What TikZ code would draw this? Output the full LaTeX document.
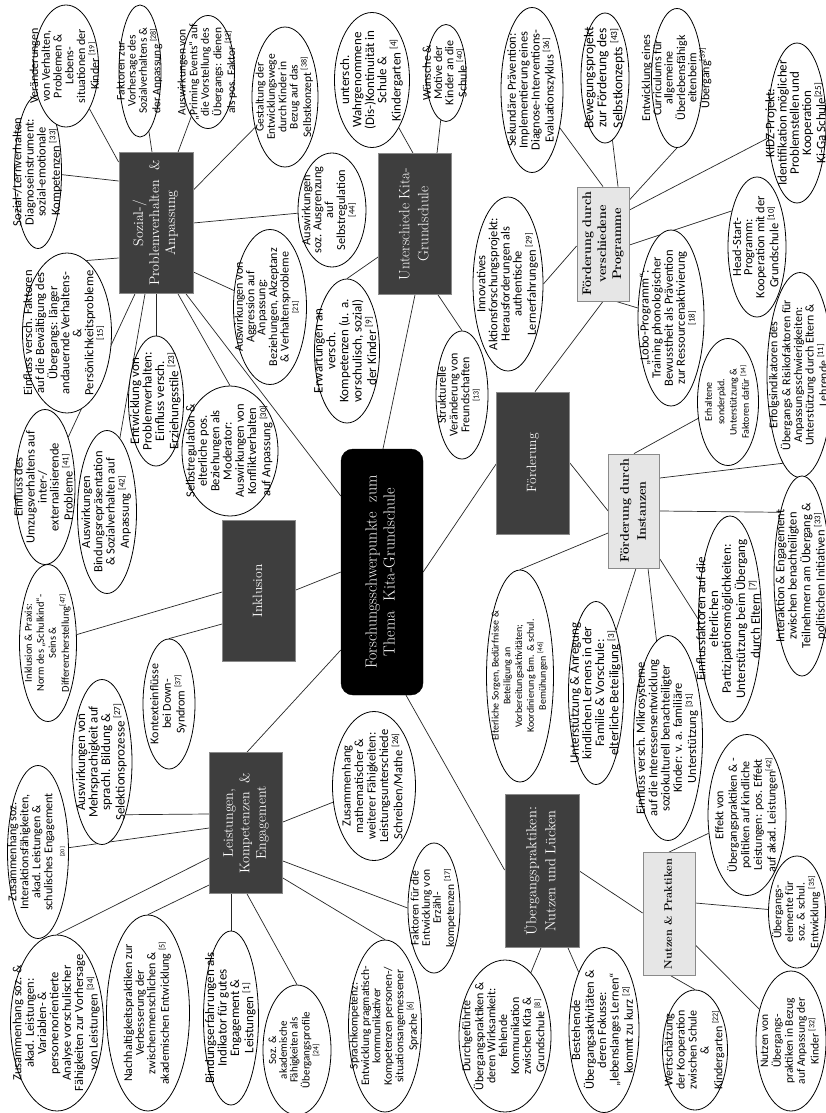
\documentclass[tikz,border=0pt]{standalone}
\usepackage{fontspec}
\usepackage{graphicx}
\usetikzlibrary{shapes.geometric}
\newfontfamily\calfont{Carlito}
\definecolor{darkbox}{HTML}{3E3E3E}
\definecolor{lightbox}{HTML}{E6E6E6}
\definecolor{boxedge}{HTML}{8A8A8A}
\pgfdeclarelayer{back}
\pgfdeclarelayer{lines}
\pgfsetlayers{back,lines,main}
% rotated, zero-size text block
\newcommand\rt[4][]{\makebox[0pt]{\raisebox{-.5\height}[0pt][0pt]{\rotatebox{90}{\fontsize{#2}{#3}\selectfont#1\begin{tabular}{@{}c@{}}#4\end{tabular}}}}}
\newcommand\rf[1]{\textsuperscript{[#1]}}
% ellipse: name, x, y, width, height, font size, baselineskip, text
\newcommand\E[8]{\node[ell,minimum width=#4pt,minimum height=#5pt] (#1) at (#2,#3) {\rt{#6}{#7}{#8}};}
\tikzset{
  ell/.style={ellipse, draw=black, line width=0.8pt, fill=white, inner sep=0pt, font=\calfont},
  dbox/.style={rectangle, draw=boxedge, line width=0.8pt, fill=darkbox, text=white, inner sep=0pt},
  lbox/.style={rectangle, draw=boxedge, line width=0.8pt, fill=lightbox, text=black, inner sep=0pt},
  cbox/.style={rectangle, rounded corners=12pt, draw=black, fill=black, text=white, inner sep=0pt},
  conn/.style={draw=black!85, line width=0.7pt}
}
\begin{document}
\begin{tikzpicture}[x=1pt,y=-1pt]
\begin{pgfonlayer}{back}
\fill[white] (0,0) rectangle (826,1113);
\end{pgfonlayer}
\useasboundingbox (0,0) rectangle (826,1113);

% ---------- main boxes ----------
\node[cbox,minimum width=82pt,minimum height=246pt] (C) at (382,572) {\rt{16}{18}{Forschungsschwerpunkte\ \ zum\\Thema\ \ Kita-Grundschule}};
\node[dbox,minimum width=74pt,minimum height=141pt] (S) at (156,223) {\rt{14}{16}{Sozial-/\\Problemverhalten\ \ \&\\Anpassung}};
\node[dbox,minimum width=73pt,minimum height=141pt] (U) at (415,224) {\rt{15}{19}{Unterschiede Kita-\\Grundschule}};
\node[lbox,minimum width=52pt,minimum height=114pt] (P) at (603,244) {\rt[\bfseries]{12.5}{15}{Förderung durch\\verschiedene\\Programme}};
\node[dbox,minimum width=73pt,minimum height=142pt] (F) at (533,463) {\rt{13.5}{16}{Förderung}};
\node[lbox,minimum width=51pt,minimum height=114pt] (I) at (634,511) {\rt[\bfseries]{12.5}{17}{Förderung durch\\Instanzen}};
\node[dbox,minimum width=73pt,minimum height=141pt] (K) at (259,591) {\rt{13.5}{16}{Inklusion}};
\node[dbox,minimum width=73pt,minimum height=141pt] (L) at (246,823) {\rt{14}{16.5}{Leistungen,\\Kompetenzen\ \ \&\\Engagement}};
\node[dbox,minimum width=74pt,minimum height=153pt] (G) at (542,871) {\rt{14.5}{19}{Übergangspraktiken:\\Nutzen\ und\ Lücken}};
\node[lbox,minimum width=52pt,minimum height=123pt] (N) at (669,914) {\rt[\bfseries]{11}{14}{Nutzen\ \&\ Praktiken}};

% ---------- ellipses ----------
\E{e1}{38}{172}{47}{153}{12.5}{11.5}{Sozial-/Lernverhalten\\Diagnoseinstrument:\\sozial-emotionale\\Kompetenzen \rf{33}}
\E{e2}{66}{66}{65}{122}{12}{11.5}{Veränderungen\\von Verhalten,\\Problemen \&\\Lebens-\\situationen der\\Kinder \rf{19}}
\E{e3}{140}{71}{42}{132}{11.5}{10.7}{Faktoren zur\\Vorhersage des\\Sozialverhaltens \&\\der Anpassung \rf{28}}
\E{e4}{208}{72}{53}{113}{11.5}{11.5}{Auswirkungen von\\„Priming Events“ auf\\die Vorstellung des\\Übergangs: dienen\\als pos. Faktor \rf{12}}
\E{e5}{285}{97}{66}{140}{11.5}{11}{Gestaltung der\\Entwicklungswege\\durch Kinder in\\Bezug auf das\\Selbstkonzept \rf{38}}
\E{e6}{372}{80}{75}{135}{13}{10.8}{untersch.\\Wahrgenommene\\(Dis-)Kontinuität in\\Schule \&\\Kindergarten \rf{4}}
\E{e7}{446}{73}{40}{97}{12}{10}{Wünsche \&\\Motive der\\Kinder an die\\Schule \rf{40}}
\E{e8}{532}{90}{62}{165}{12.4}{11}{Sekundäre Prävention:\\Implementierung eines\\Diagnose-Interventions-\\Evaluationszyklus \rf{36}}
\E{e9}{332}{210}{68}{114}{12.3}{11}{Auswirkungen\\soz. Ausgrenzung\\auf\\Selbstregulation\\\rf{44}}
\E{e10}{605}{78}{48}{130}{13.5}{12.5}{Bewegungsprojekt\\zur Förderung des\\Selbstkonzepts \rf{43}}
\E{e11}{677}{78}{51}{139}{12}{9.5}{Entwicklung eines\\Curriculums für\\allgemeine\\Überlebensfähigk\\eitenbeim\\Übergang\rf{39}}
\E{e12}{797}{123}{58}{160}{13}{11}{KIDZ-Projekt:\\Identifikation möglicher\\Problemstellen und\\Kooperation\\Ki-Ga Schule\rf{25}}
\E{e13}{757}{247}{58}{140}{12.5}{11}{Head-Start-\\Programm:\\Kooperation mit der\\Grundschule \rf{10}}
\E{e14}{671}{318}{66}{176}{12.5}{11.5}{„Lobo-Programm“:\\Training phonologischer\\Bewusstheit als Prävention\\zur Ressourcenaktivierung\\\rf{18}}
\E{e15}{508}{284}{70}{174}{12.5}{11.5}{Innovatives\\Aktionsforschungsprojekt:\\Herausforderungen als\\authentische\\Lernerfahrungen \rf{29}}
\E{e16}{67}{333}{89}{160}{12.5}{11}{Einfluss versch. Faktoren\\auf die Bewältigung des\\Übergangs: länger\\andauernde Verhaltens-\\\&\\Persönlichkeitsprobleme\\\rf{15}}
\E{e17}{45}{487}{60}{155}{12.5}{11}{Einfluss des\\Umzugsverhaltens auf\\inter-/\\externalisierende\\Probleme \rf{41}}
\E{e18}{107}{512}{59}{163}{12.5}{12}{Auswirkungen\\Bindungsrepräsentation\\\& Sozialverhalten auf\\Anpassung \rf{42}}
\E{e19}{156}{401}{55}{130}{13}{11.5}{Entwicklung von\\Problemverhalten:\\Einfluss versch.\\Erziehungsstile \rf{23}}
\E{e20}{230}{451}{96}{130}{12.5}{12}{Selbstregulation \&\\elterliche pos.\\Beziehungen als\\Moderator:\\Auswirkungen von\\Konfliktverhalten\\auf Anpassung \rf{30}}
\E{e21}{270}{307}{73}{155}{12}{11}{Auswirkungen von\\Aggression auf\\Anpassung:\\Beziehungen, Akzeptanz\\\& Verhaltensprobleme\\\rf{21}}
\E{e22}{347}{351}{65}{144}{13}{12}{Erwartungen an\\versch.\\Kompetenzen (u. a.\\vorschulisch, sozial)\\der Kinder \rf{9}}
\E{e23}{462}{395}{52}{128}{12}{11.3}{Strukturelle\\Veränderung von\\Freundschaften\\\rf{13}}
\E{e24}{728}{402}{61}{127}{10}{12.3}{Erhaltene\\sonderpäd.\\Unterstützung \&\\Faktoren dafür \rf{14}}
\E{e25}{800}{375}{66}{205}{11.9}{11.3}{Erfolgsindikatoren des\\Übergangs \& Risikofaktoren für\\Anpassungsschwierigkeiten:\\Unterstützung durch Eltern \&\\Lehrende \rf{11}}
\E{e26}{802}{576}{56}{200}{12.5}{12}{Interaktion \& Engagement\\zwischen benachteiligten\\Teilnehmern am Übergang \&\\politischen Initiativen \rf{33}}
\E{e27}{730}{619}{63}{206}{13}{12.5}{Einflussfaktoren auf die\\elterlichen\\Partizipationsmöglichkeiten:\\Unterstützung beim Übergang\\durch Eltern \rf{7}}
\E{e28}{596}{693}{55}{183}{13}{11.7}{Unterstützung \& Anregung\\kindlichen Lernens in der\\Familie \& Vorschule:\\elterliche Beteiligung \rf{3}}
\E{e29}{668}{738}{69}{205}{12.5}{12}{Einfluss versch. Mikrosysteme\\auf die Interessensentwicklung\\soziokulturell benachteiligter\\Kinder: v. a. familiäre\\Unterstützung \rf{31}}
\E{e30}{520}{676}{67}{212}{10}{11.7}{Elterliche Sorgen, Bedürfnisse \&\\Beteiligung an\\Vorbereitungsaktivitäten;\\Koordinierung fam. \& schul.\\Bemühungen \rf{46}}
\E{e31}{48}{643}{57}{157}{10.5}{12}{Inklusion \& Praxis:\\Norm des „Schulkind“-\\Seins \&\\Differenzherstellung\rf{47}}
\E{e32}{169}{704}{52}{130}{12}{12.5}{Kontexteinflüsse\\bei Down-\\Syndrom \rf{37}}
\E{e33}{102}{762}{60}{165}{13}{11.7}{Auswirkungen von\\Mehrsprachigkeit auf\\sprachl. Bildung \&\\Selektionsprozesse \rf{27}}
\E{e34}{374}{786}{83}{149}{12.5}{12.5}{Zusammenhang\\mathematischer \&\\weiterer Fähigkeiten:\\Leistungsunterschiede\\Schreiben/Mathe \rf{26}}
\E{e35}{38}{852}{61}{173}{12}{12}{Zusammenhang soz.\\Interaktionsfähigkeiten,\\akad. Leistungen \&\\schulisches Engagement\\{\fontsize{6}{6}\selectfont[20]}}
\E{e36}{57}{1023}{93}{176}{12.5}{12.3}{Zusammenhang soz. \&\\akad. Leistungen:\\Variablen- \&\\personenorientierte\\Analyse vorschulischer\\Fähigkeiten zur Vorhersage\\von Leistungen \rf{34}}
\E{e37}{148}{1013}{83}{196}{12}{11}{Nachhaltigkeitspraktiken zur\\Verbesserung der\\zwischenmenschlichen \&\\akademischen Entwicklung \rf{5}}
\E{e38}{231}{1018}{55}{174}{13}{11.7}{Bindungserfahrungen als\\Indikator für gutes\\Engagement \&\\Leistungen \rf{1}}
\E{e39}{297}{1050}{68}{130}{11}{10.5}{Soz. \&\\akademische\\Fähigkeiten als\\Übergangsprofile\\\rf{24}}
\E{e40}{385}{1026}{73}{172}{11.5}{11.4}{Sprachkompetenz:\\Entwicklung pragmatisch-\\kommunikativer\\Kompetenzen personen-/\\situationsangemessener\\Sprache \rf{6}}
\E{e41}{434}{908}{52}{130}{11.5}{10.5}{Faktoren für die\\Entwicklung von\\Erzähl-\\kompetenzen \rf{17}}
\E{e42}{505}{1036}{92}{152}{12}{11.7}{Durchgeführte\\Übergangspraktiken \&\\deren Wirksamkeit:\\fehlende\\Kommunikation\\zwischen Kita \&\\Grundschule \rf{8}}
\E{e43}{604}{1030}{70}{165}{12.5}{12}{Bestehende\\Übergangsaktivitäten \&\\deren Fokusse:\\„lebenslanges Lernen“\\kommt zu kurz \rf{2}}
\E{e44}{695}{1050}{65}{120}{12}{12}{Wertschätzung\\der Kooperation\\zwischen Schule\\\&\\Kindergarten \rf{22}}
\E{e45}{791}{1041}{70}{140}{11.5}{12}{Nutzen von\\Übergangs-\\praktiken in Bezug\\auf Anpassung der\\Kinder \rf{32}}
\E{e46}{797}{912}{57}{112}{11.5}{11.7}{Übergangs-\\elemente für\\soz. \& schul.\\Entwicklung \rf{35}}
\E{e47}{747}{815}{78}{161}{12}{12.5}{Effekt von\\Übergangspraktiken \& -\\politiken auf kindliche\\Leistungen: pos. Effekt\\auf akad. Leistungen\rf{42}}

% ---------- connectors ----------
\begin{pgfonlayer}{lines}
% Sozial-/Problemverhalten
\draw[conn] (e1) -- (S.west|-0,181);
\draw[conn] (e2) -- (S.west|-0,162);
\draw[conn] (e3) -- (S.north-|152,0);
\draw[conn] (e4) -- (S.north-|178,0);
\draw[conn] (e5) -- (S.east|-0,190);
\draw[conn] (e9) -- (S.east|-0,223);
\draw[conn] (e21) -- (S.east|-0,272);
\draw[conn] (e16.75) -- (S.west|-0,258);
\draw[conn] (e17) -- (S.south-|135,0);
\draw[conn] (e18) -- (S.south-|145,0);
\draw[conn] (e19) -- (S.south-|156,0);
\draw[conn] (e20.north) -- (S.south-|178,0);
\draw[conn] (S.south-|186,0) -- (C.west|-0,496);
% Unterschiede
\draw[conn] (e6) -- (U.north-|413,0);
\draw[conn] (e7) -- (U.north-|437,0);
\draw[conn] (e22.north) -- (U.west|-0,257);
\draw[conn] (e23.north) -- (U.south-|438,0);
\draw[conn] (U.south-|415,0) -- (C.north-|383,0);
% Programme
\draw[conn] (e8) -- (P.north-|603,0);
\draw[conn] (e10) -- (P.north-|618,0);
\draw[conn] (e11.south) -- (P.east|-0,200);
\draw[conn] (e12) -- (P.east|-0,210);
\draw[conn] (e13.125) -- (P.east|-0,245);
\draw[conn] (e14) -- (P.south-|616,0);
\draw[conn] (e15.east) -- (P.west|-0,246);
\draw[conn] (P.south-|603,0) -- (F.north-|535,0);
% Foerderung
\draw[conn] (C.east|-0,572) -- (F.west|-0,464);
\draw[conn] (F.east|-0,463) -- (I.west|-0,511);
% Instanzen
\draw[conn] (e24) -- (I.north-|634,0);
\draw[conn] (e25.259) -- (I.east|-0,478);
\draw[conn] (e26.109) -- (I.east|-0,511);
\draw[conn] (e27.west) -- (I.east|-0,559);
\draw[conn] (e28) -- (I.south-|636,0);
\draw[conn] (e29) -- (I.south-|648,0);
\draw[conn] (e30.north) -- (I.west|-0,533);
% Inklusion
\draw[conn] (e31) -- (K.west|-0,592);
\draw[conn] (e32.north) -- (K.west|-0,624);
\draw[conn] (K.east|-0,590) -- (C.west|-0,572);
% Leistungen
\draw[conn] (L.north-|247,0) -- (C.west|-0,650);
\draw[conn] (e33.-66) -- (L.west|-0,814);
\draw[conn] (e34) -- (L.east|-0,822);
\draw[conn] (e35) -- (L.west|-0,828);
\draw[conn] (e36.north) -- (L.west|-0,858);
\draw[conn] (e37.north) -- (L.west|-0,885);
\draw[conn] (e38) -- (L.south-|231,0);
\draw[conn] (e39.north) -- (L.south-|247,0);
\draw[conn] (e40.north) -- (L.east|-0,878);
\draw[conn] (e41.west) -- (L.east|-0,861);
% Uebergangspraktiken
\draw[conn] (C.south-|406,0) -- (G.west|-0,870);
\draw[conn] (e42) -- (G.south-|541,0);
\draw[conn] (e43) -- (G.south-|568,0);
\draw[conn] (G.east|-0,871) -- (N.west|-0,913);
% Nutzen & Praktiken
\draw[conn] (e44.north) -- (N.south-|671,0);
\draw[conn] (e45) -- (N.east|-0,945);
\draw[conn] (e46) -- (N.east|-0,903);
\draw[conn] (e47) -- (N.north-|669,0);
\end{pgfonlayer}
\end{tikzpicture}
\end{document}
